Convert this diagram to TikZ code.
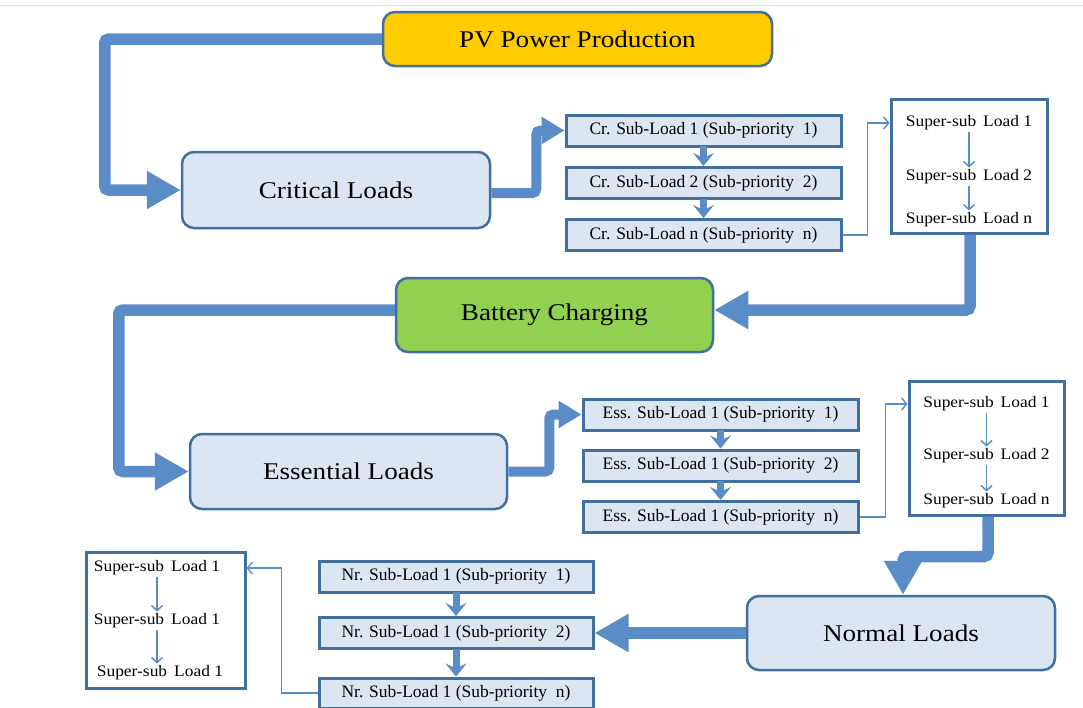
\documentclass[tikz,border=0pt]{standalone}
\usepackage{fontspec}
\setmainfont{Liberation Serif}
\newfontfamily\bigfont[FakeStretch=1.13]{Liberation Serif}
\newfontfamily\ssfont[FakeStretch=1.09]{Liberation Serif}
\usetikzlibrary{arrows.meta,calc}
\definecolor{arrowc}{HTML}{5A8CC8}
\definecolor{boxline}{HTML}{41709F}
\definecolor{boxfill}{HTML}{DCE6F2}
\definecolor{pvfill}{HTML}{FFCC00}
\definecolor{battfill}{HTML}{92D050}
\tikzset{
  bigbox/.style={draw=boxline,line width=2.5pt,rounded corners=12pt,fill=boxfill,inner sep=0pt,font=\bigfont\fontsize{24}{28}\selectfont},
  subbox/.style={draw=boxline,line width=3pt,fill=boxfill,inner sep=0pt,minimum width=275pt,minimum height=31pt,font=\fontsize{17.5}{20}\selectfont},
  ssbox/.style={draw=boxline,line width=3pt,fill=white,inner sep=0pt},
  sstext/.style={inner sep=1pt,font=\ssfont\fontsize{16}{19}\selectfont},
  flow/.style={draw=arrowc,line width=11.5pt,rounded corners=4pt,-{Triangle[length=34pt,width=36pt]}},
  flowsmall/.style={draw=arrowc,line width=10pt,rounded corners=4pt,-{Triangle[length=23pt,width=26pt]}},
  flowshort/.style={draw=arrowc,line width=7pt,-{Stealth[length=13pt,width=21pt,inset=5pt]},shorten <=-1.5pt},
  thin/.style={draw=arrowc,line width=1.4pt,-{Straight Barb[length=5pt,width=12pt]}},
  inner/.style={draw=arrowc,line width=1.5pt,-{Straight Barb[length=5pt,width=11pt]},shorten <=1pt,shorten >=1pt},
}
\newcommand{\ssl}[1]{Super-sub~\,Load #1}
\begin{document}
\begin{tikzpicture}[x=1pt,y=-1pt]
\useasboundingbox (0,0) rectangle (1083,707);
\draw[gray!25,line width=0.8pt] (0,5) -- (1083,5);
% main boxes
\node[bigbox,fill=pvfill,minimum width=389pt,minimum height=54pt] (pv) at (577.5,39) {PV Power Production};
\node[bigbox,minimum width=308pt,minimum height=76pt] (crit) at (336,190) {Critical Loads};
\node[bigbox,fill=battfill,minimum width=317pt,minimum height=74pt] (batt) at (554.5,315) {Battery Charging};
\node[bigbox,minimum width=317pt,minimum height=75pt] (ess) at (348.5,471.5) {Essential Loads};
\node[bigbox,minimum width=308pt,minimum height=74pt] (norm) at (901,633) {Normal Loads};
% short thick arrows (drawn first, under the boxes)
\path (703.5,130.5) coordinate (c1) (703.5,183) coordinate (c2) (703.5,235) coordinate (c3);
% critical sub-loads
\node[subbox] (cr1) at (703.5,130.5) {Cr. Sub-Load 1 (Sub-priority\ \ 1)};
\node[subbox] (cr2) at (703.5,183) {Cr. Sub-Load 2 (Sub-priority\ \ 2)};
\node[subbox] (crn) at (703.5,235) {Cr. Sub-Load n (Sub-priority\ \ n)};
% essential sub-loads
\node[subbox] (es1) at (720.5,414.5) {Ess. Sub-Load 1 (Sub-priority\ \ 1)};
\node[subbox] (es2) at (720.5,465.5) {Ess. Sub-Load 1 (Sub-priority\ \ 2)};
\node[subbox] (esn) at (720.5,517) {Ess. Sub-Load 1 (Sub-priority\ \ n)};
% normal sub-loads
\node[subbox,minimum width=274pt] (nr1) at (456,576.5) {Nr. Sub-Load 1 (Sub-priority\ \ 1)};
\node[subbox,minimum width=274pt] (nr2) at (456,633) {Nr. Sub-Load 1 (Sub-priority\ \ 2)};
\node[subbox,minimum width=274pt,minimum height=30pt] (nrn) at (456,693) {Nr. Sub-Load 1 (Sub-priority\ \ n)};
% super-sub boxes
\node[ssbox,minimum width=156pt,minimum height=134pt] (ssa) at (969,166) {};
\node[sstext] (sa1) at (969,123) {\ssl{1}};
\node[sstext] (sa2) at (969,177) {\ssl{2}};
\node[sstext] (sa3) at (969,220) {\ssl{n}};
\node[ssbox,minimum width=155pt,minimum height=134pt] (ssb) at (986.5,448) {};
\node[sstext] (sb1) at (986.5,404) {\ssl{1}};
\node[sstext] (sb2) at (986.5,456) {\ssl{2}};
\node[sstext] (sb3) at (986.5,501) {\ssl{n}};
\node[ssbox,minimum width=159pt,minimum height=136pt] (ssc) at (165.5,620) {};
\node[sstext] (sc1) at (157,568) {\ssl{1}};
\node[sstext] (sc2) at (157,621) {\ssl{1}};
\node[sstext] (sc3) at (160,673) {\ssl{1}};
% inner arrows
\draw[inner] (sa1) -- (sa2);
\draw[inner] (sa2) -- (sa3);
\draw[inner] (sb1) -- (sb2);
\draw[inner] (sb2) -- (sb3);
\draw[inner] (sc1) -- (sc2);
\draw[inner] (sc2.south) -- (sc2.south |- sc3.north);
% short thick arrows
\draw[flowshort] (cr1) -- (cr2);
\draw[flowshort] (cr2) -- (crn);
\draw[flowshort] (es1) -- (es2);
\draw[flowshort] (es2) -- (esn);
\draw[flowshort] (nr1) -- (nr2);
\draw[flowshort] (nr2) -- (nrn);
% main flows
\draw[flow] (pv.west) -- ++(-277,0) |- (crit.west);
\draw[flowsmall] ([yshift=-3pt]crit.east) -- ++(45,0) |- (cr1.west);
\draw[flow] ([xshift=1pt]ssa.south) |- ([yshift=5pt]batt.east);
\draw[flow] ([yshift=5pt]batt.west) -- ++(-276,0) |- (ess.west);
\draw[flowsmall] (ess.east) -- ++(41,0) |- (es1.west);
\draw[flow] ([xshift=1.5pt]ssb.south) -- ++(0,40) -| ([xshift=2pt]norm.north);
\draw[flow] (norm.west) -- (nr2.east);
% thin connectors
\draw[thin] (crn.east) -- ++(25,0) |- (ssa.west |- sa1);
\draw[thin] (esn.east) -- ++(26,0) |- (ssb.west |- sb1);
\draw[thin] (nrn.west) -- ++(-36,0) |- (ssc.east |- sc1);
\end{tikzpicture}
\end{document}
